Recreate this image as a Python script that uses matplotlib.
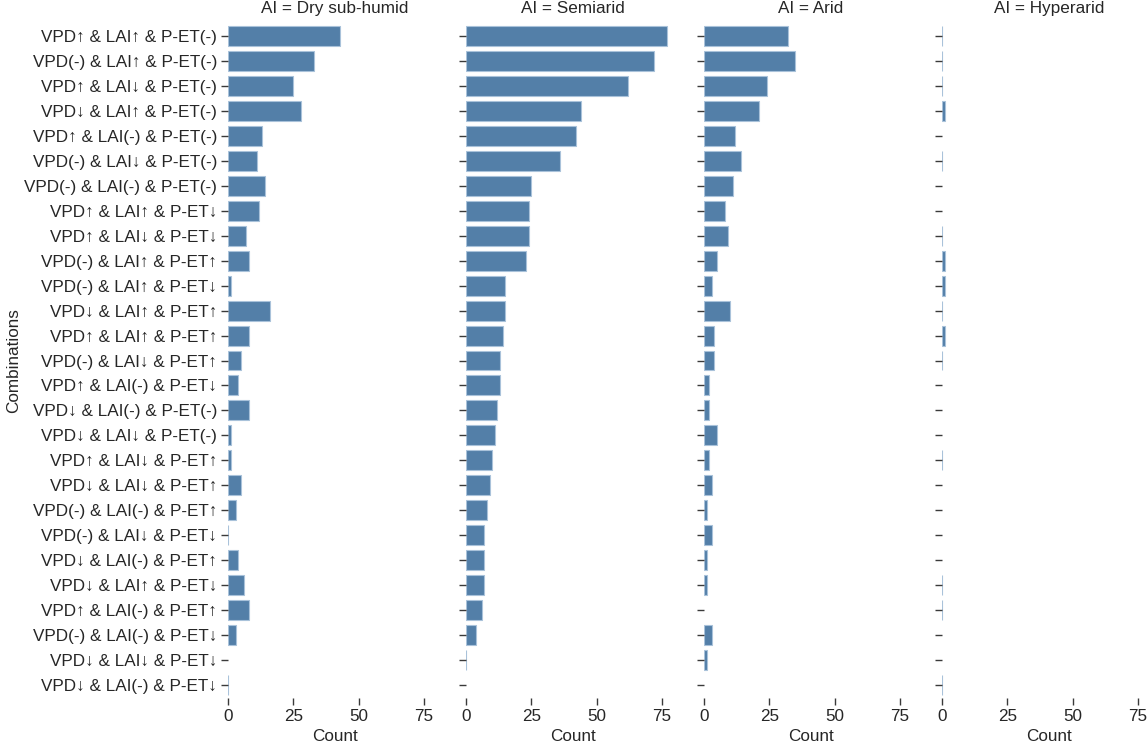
import matplotlib
matplotlib.use("Agg")
import matplotlib.pyplot as plt
import numpy as np

plt.rcParams["font.family"] = ["Liberation Sans", "DejaVu Sans"]
plt.rcParams["font.size"] = 12.3

combinations = [
    "VPD↑ & LAI↑ & P-ET(-)",
    "VPD(-) & LAI↑ & P-ET(-)",
    "VPD↑ & LAI↓ & P-ET(-)",
    "VPD↓ & LAI↑ & P-ET(-)",
    "VPD↑ & LAI(-) & P-ET(-)",
    "VPD(-) & LAI↓ & P-ET(-)",
    "VPD(-) & LAI(-) & P-ET(-)",
    "VPD↑ & LAI↑ & P-ET↓",
    "VPD↑ & LAI↓ & P-ET↓",
    "VPD(-) & LAI↑ & P-ET↑",
    "VPD(-) & LAI↑ & P-ET↓",
    "VPD↓ & LAI↑ & P-ET↑",
    "VPD↑ & LAI↑ & P-ET↑",
    "VPD(-) & LAI↓ & P-ET↑",
    "VPD↑ & LAI(-) & P-ET↓",
    "VPD↓ & LAI(-) & P-ET(-)",
    "VPD↓ & LAI↓ & P-ET(-)",
    "VPD↑ & LAI↓ & P-ET↑",
    "VPD↓ & LAI↓ & P-ET↑",
    "VPD(-) & LAI(-) & P-ET↑",
    "VPD(-) & LAI↓ & P-ET↓",
    "VPD↓ & LAI(-) & P-ET↑",
    "VPD↓ & LAI↑ & P-ET↓",
    "VPD↑ & LAI(-) & P-ET↑",
    "VPD(-) & LAI(-) & P-ET↓",
    "VPD↓ & LAI↓ & P-ET↓",
    "VPD↓ & LAI(-) & P-ET↓",
]

ai_classes = ["Dry sub-humid", "Semiarid", "Arid", "Hyperarid"]

# None = combination absent in that class
dry_subhumid = [43, 33, 25, 28, 13, 11, 14, 12, 7, 8, 1, 16, 8, 5,
                4, 8, 1, 1, 5, 3, 0, 4, 6, 8, 3, None, 0]
semiarid = [77, 72, 62, 44, 42, 36, 25, 24, 24, 23, 15, 15, 14, 13,
            13, 12, 11, 10, 9, 8, 7, 7, 7, 6, 4, 0, None]
arid = [32, 35, 24, 21, 12, 14, 11, 8, 9, 5, 3, 10, 4, 4,
        2, 2, 5, 2, 3, 1, 3, 1, 1, None, 3, 1, None]
hyperarid = [0, 0, 0, 1, None, 0, None, None, 0, 1, 1, 0, 1, 0,
             None, None, None, 0, None, None, None, None, 0, 0, None, None, 0]

counts = [dry_subhumid, semiarid, arid, hyperarid]

bar_color = "#537fa8"
text_color = "#262626"

fig = plt.figure(figsize=(11.47, 7.46), dpi=100)
W, H = 1147, 746

x_max = 81.9
ax_w = 214
ax_left = [228, 466, 704, 942]
ax_top = 23.2
ax_bottom = 697.8

y = np.arange(len(combinations))
for i, (name, vals) in enumerate(zip(ai_classes, counts)):
    ax = fig.add_axes([ax_left[i] / W, 1 - ax_bottom / H,
                       ax_w / W, (ax_bottom - ax_top) / H])
    idx = [k for k, v in enumerate(vals) if v is not None]
    ax.barh(y[idx], [vals[k] for k in idx], height=0.8, color=bar_color,
            edgecolor="#a9c2da", linewidth=0.8)
    ax.set_xlim(0, x_max)
    ax.set_ylim(len(combinations) - 0.5, -0.5)
    ax.set_yticks(y)
    if i == 0:
        ax.set_yticklabels(combinations, color=text_color)
        ax.set_ylabel("Combinations", color=text_color, labelpad=2)
    else:
        ax.set_yticklabels([])
    ax.set_xticks([0, 25, 50, 75])
    ax.set_xticklabels(["0", "25", "50", "75"], color=text_color)
    ax.set_xlabel("Count", color=text_color, labelpad=4)
    ax.set_title("AI = " + name, color=text_color, fontsize=12.3, pad=7)
    for s in ax.spines.values():
        s.set_visible(False)
    ax.tick_params(axis="both", length=5, width=1, color="#3a3a3a",
                   pad=3)

fig.savefig("out.png", dpi=100)
